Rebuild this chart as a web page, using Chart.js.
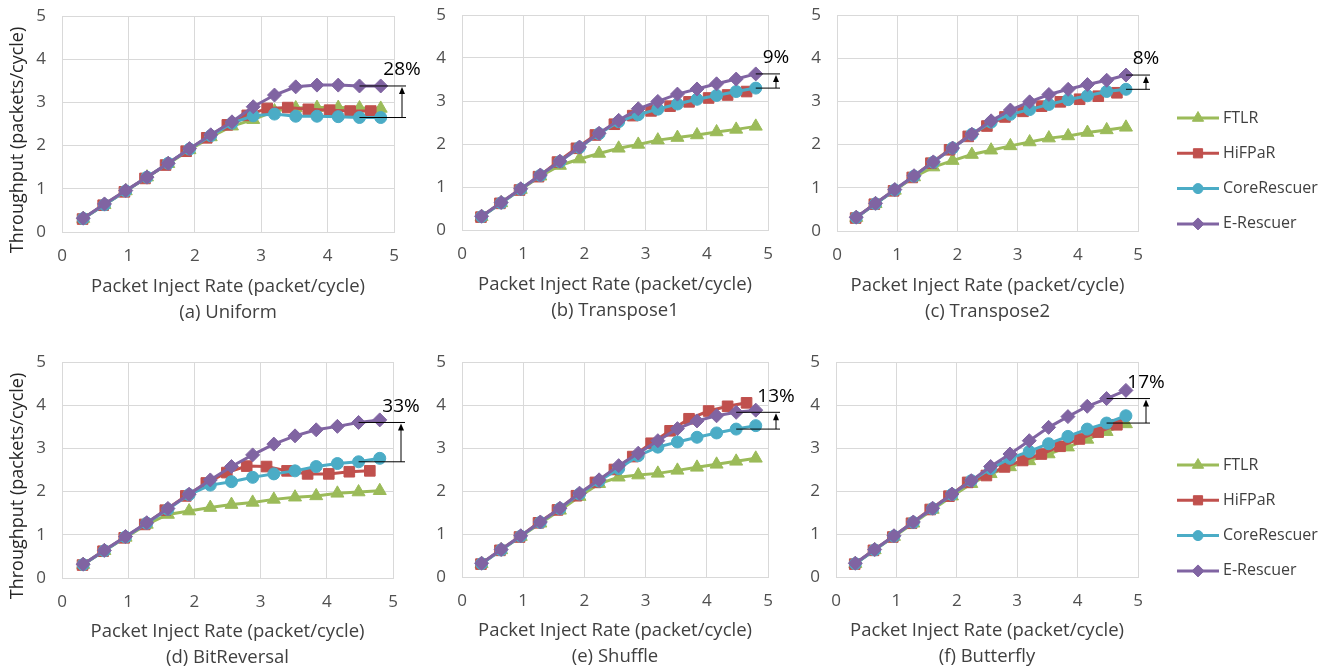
<!DOCTYPE html>
<html>
<head>
<meta charset="utf-8">
<script src="https://cdn.jsdelivr.net/npm/chart.js@4.4.1/dist/chart.umd.min.js"></script>
<style>
  html, body { margin: 0; padding: 0; background: #fff; }
  body { width: 1338px; height: 671px; position: relative; overflow: hidden; }
  canvas { position: absolute; }
</style>
</head>
<body>
<canvas id="p0" width="420" height="330" style="left:0;top:0"></canvas>
<canvas id="p1" width="380" height="330" style="left:420px;top:0"></canvas>
<canvas id="p2" width="538" height="330" style="left:800px;top:0"></canvas>
<canvas id="p3" width="420" height="341" style="left:0;top:330px"></canvas>
<canvas id="p4" width="380" height="341" style="left:420px;top:330px"></canvas>
<canvas id="p5" width="538" height="341" style="left:800px;top:330px"></canvas>
<script>
// injection rates (x) - HiFPaR was measured at slightly lower rates
const rates       = [0.32, 0.64, 0.96, 1.28, 1.6, 1.92, 2.24, 2.56, 2.88, 3.2, 3.52, 3.84, 4.16, 4.48, 4.8];
const hifparRates = [0.31, 0.62, 0.94, 1.25, 1.56, 1.87, 2.18, 2.49, 2.79, 3.09, 3.4, 3.71, 4.03, 4.34, 4.65];

const seriesNames = ['FTLR', 'HiFPaR', 'CoreRescuer', 'E-Rescuer'];
const xAxisTitle = 'Packet Inject Rate (packet/cycle)';
const yAxisTitle = 'Throughput (packets/cycle)';
const panelTitles = ['(a) Uniform', '(b) Transpose1', '(c) Transpose2', '(d) BitReversal', '(e) Shuffle', '(f) Butterfly'];

// (a) Uniform
const uniformFTLR   = [0.31, 0.63, 0.95, 1.27, 1.58, 1.9, 2.2, 2.45, 2.6, 2.8, 2.87, 2.88, 2.88, 2.87, 2.86];
const uniformHiFPaR = [0.3, 0.62, 0.93, 1.24, 1.55, 1.87, 2.18, 2.48, 2.7, 2.86, 2.88, 2.84, 2.82, 2.8, 2.8];
const uniformCore   = [0.31, 0.63, 0.95, 1.27, 1.59, 1.92, 2.23, 2.52, 2.69, 2.73, 2.68, 2.68, 2.67, 2.65, 2.65];
const uniformE      = [0.32, 0.65, 0.96, 1.27, 1.59, 1.93, 2.25, 2.55, 2.9, 3.17, 3.36, 3.4, 3.4, 3.38, 3.38];
// (b) Transpose1
const trans1FTLR   = [0.31, 0.63, 0.94, 1.25, 1.5, 1.65, 1.78, 1.9, 1.99, 2.09, 2.15, 2.21, 2.28, 2.34, 2.41];
const trans1HiFPaR = [0.3, 0.62, 0.93, 1.24, 1.58, 1.9, 2.21, 2.46, 2.66, 2.77, 2.88, 2.98, 3.07, 3.14, 3.22];
const trans1Core   = [0.31, 0.63, 0.95, 1.27, 1.59, 1.92, 2.24, 2.52, 2.68, 2.81, 2.93, 3.04, 3.13, 3.22, 3.3];
const trans1E      = [0.32, 0.64, 0.96, 1.28, 1.6, 1.93, 2.25, 2.55, 2.82, 2.99, 3.16, 3.28, 3.4, 3.51, 3.63];
// (c) Transpose2
const trans2FTLR   = [0.31, 0.63, 0.94, 1.25, 1.48, 1.63, 1.77, 1.87, 1.97, 2.06, 2.15, 2.2, 2.28, 2.34, 2.4];
const trans2HiFPaR = [0.3, 0.62, 0.93, 1.24, 1.57, 1.88, 2.19, 2.43, 2.64, 2.77, 2.89, 2.99, 3.05, 3.12, 3.2];
const trans2Core   = [0.31, 0.63, 0.95, 1.27, 1.59, 1.92, 2.24, 2.52, 2.7, 2.81, 2.93, 3.04, 3.13, 3.23, 3.28];
const trans2E      = [0.32, 0.64, 0.96, 1.28, 1.6, 1.92, 2.24, 2.55, 2.8, 2.99, 3.16, 3.28, 3.39, 3.49, 3.61];
// (d) BitReversal
const bitrevFTLR   = [0.31, 0.63, 0.94, 1.24, 1.47, 1.55, 1.63, 1.7, 1.75, 1.82, 1.87, 1.9, 1.96, 1.99, 2.02];
const bitrevHiFPaR = [0.3, 0.62, 0.93, 1.24, 1.57, 1.9, 2.2, 2.44, 2.59, 2.58, 2.48, 2.41, 2.41, 2.46, 2.48];
const bitrevCore   = [0.31, 0.63, 0.95, 1.27, 1.59, 1.93, 2.15, 2.23, 2.33, 2.41, 2.48, 2.58, 2.65, 2.69, 2.77];
const bitrevE      = [0.32, 0.64, 0.96, 1.28, 1.61, 1.94, 2.27, 2.58, 2.85, 3.1, 3.29, 3.43, 3.51, 3.6, 3.66];
// (e) Shuffle
const shuffleFTLR   = [0.31, 0.63, 0.94, 1.25, 1.55, 1.87, 2.17, 2.32, 2.37, 2.41, 2.48, 2.55, 2.62, 2.69, 2.76];
const shuffleHiFPaR = [0.3, 0.62, 0.93, 1.26, 1.56, 1.89, 2.2, 2.5, 2.8, 3.11, 3.4, 3.68, 3.86, 3.97, 4.05];
const shuffleCore   = [0.31, 0.63, 0.95, 1.27, 1.59, 1.93, 2.23, 2.52, 2.82, 3.02, 3.14, 3.25, 3.35, 3.44, 3.52];
const shuffleE      = [0.32, 0.64, 0.96, 1.28, 1.6, 1.95, 2.26, 2.59, 2.88, 3.17, 3.45, 3.63, 3.75, 3.83, 3.88];
// (f) Butterfly
const butterflyFTLR   = [0.31, 0.63, 0.94, 1.25, 1.57, 1.88, 2.17, 2.4, 2.56, 2.7, 2.86, 3.02, 3.2, 3.38, 3.56];
const butterflyHiFPaR = [0.3, 0.62, 0.93, 1.25, 1.57, 1.88, 2.2, 2.36, 2.56, 2.71, 2.86, 3.04, 3.21, 3.37, 3.54];
const butterflyCore   = [0.31, 0.63, 0.95, 1.27, 1.59, 1.92, 2.24, 2.52, 2.76, 2.92, 3.1, 3.27, 3.44, 3.58, 3.75];
const butterflyE      = [0.32, 0.64, 0.96, 1.28, 1.6, 1.93, 2.24, 2.57, 2.86, 3.17, 3.48, 3.73, 3.97, 4.15, 4.34];

// improvement brackets: start rate, upper and lower throughput, label
const gapFrom   = [4.48, 4.8, 4.8, 4.48, 4.48, 4.48];
const gapHigh   = [3.38, 3.63, 3.61, 3.6, 3.83, 4.15];
const gapLow    = [2.65, 3.3, 3.28, 2.69, 3.44, 3.58];
const gapLabels = ['28%', '9%', '8%', '33%', '13%', '17%'];

const panelSeries = [
  [uniformFTLR, uniformHiFPaR, uniformCore, uniformE],
  [trans1FTLR, trans1HiFPaR, trans1Core, trans1E],
  [trans2FTLR, trans2HiFPaR, trans2Core, trans2E],
  [bitrevFTLR, bitrevHiFPaR, bitrevCore, bitrevE],
  [shuffleFTLR, shuffleHiFPaR, shuffleCore, shuffleE],
  [butterflyFTLR, butterflyHiFPaR, butterflyCore, butterflyE],
];

const colors  = ['#9bbb59', '#c0504d', '#4bacc6', '#8064a2'];
const markers = ['triangle', 'rect', 'circle', 'rectRot'];
const radii   = [7.5, 7.5, 6, 7];
const FONT = '"Open Sans", Lato, sans-serif';

// per canvas: y axis width, right padding, top padding, x axis height, title bottom padding
const cells = [
  { axisW: 62, padR: 26, padT: 16, axisH: 98, titleB: 4, yTitle: true,  legend: false },
  { axisW: 42, padR: 32, padT: 15, axisH: 100, titleB: 6, yTitle: false, legend: false },
  { axisW: 37, padR: 200, padT: 15, axisH: 99, titleB: 5, yTitle: false, legend: true },
  { axisW: 62, padR: 27, padT: 32, axisH: 93, titleB: 0, yTitle: true,  legend: false },
  { axisW: 42, padR: 32, padT: 32, axisH: 94, titleB: 1, yTitle: false, legend: false },
  { axisW: 36, padR: 200, padT: 32, axisH: 94, titleB: 1, yTitle: false, legend: true },
];

function gapArrow(i) {
  return {
    id: 'gapArrow',
    afterDraw(chart) {
      const { ctx, chartArea, scales: { x, y } } = chart;
      const ax = chartArea.right + 8;
      const xs = x.getPixelForValue(gapFrom[i]);
      const yh = y.getPixelForValue(gapHigh[i]);
      const yl = y.getPixelForValue(gapLow[i]);
      ctx.save();
      ctx.strokeStyle = '#000';
      ctx.fillStyle = '#000';
      ctx.lineWidth = 1;
      ctx.beginPath();
      ctx.moveTo(xs, yh); ctx.lineTo(ax + 4, yh);
      ctx.moveTo(xs, yl); ctx.lineTo(ax + 4, yl);
      ctx.moveTo(ax, yl); ctx.lineTo(ax, yh + 6);
      ctx.stroke();
      ctx.beginPath();
      ctx.moveTo(ax, yh + 1); ctx.lineTo(ax - 3, yh + 8); ctx.lineTo(ax + 3, yh + 8);
      ctx.closePath();
      ctx.fill();
      ctx.font = '19px ' + FONT;
      ctx.textAlign = 'center';
      ctx.textBaseline = 'middle';
      ctx.fillText(gapLabels[i], ax, yh - 16);
      ctx.restore();
    }
  };
}

const sideTitle = {
  id: 'sideTitle',
  afterDraw(chart) {
    const { ctx, chartArea } = chart;
    ctx.save();
    ctx.translate(18, (chartArea.top + chartArea.bottom) / 2 + 16);
    ctx.rotate(-Math.PI / 2);
    ctx.font = '18px ' + FONT;
    ctx.fillStyle = '#262626';
    ctx.textAlign = 'center';
    ctx.textBaseline = 'middle';
    ctx.fillText(yAxisTitle, 0, 0);
    ctx.restore();
  }
};

const sideLegend = {
  id: 'sideLegend',
  afterDraw(chart) {
    const { ctx, chartArea } = chart;
    const x0 = chartArea.right + 39;
    chart.data.datasets.forEach((ds, i) => {
      const yy = chartArea.top + 103 + i * 35.3;
      ctx.save();
      ctx.strokeStyle = ds.borderColor;
      ctx.lineWidth = 3;
      ctx.beginPath();
      ctx.moveTo(x0, yy); ctx.lineTo(x0 + 42, yy);
      ctx.stroke();
      ctx.fillStyle = ds.pointBackgroundColor;
      ctx.strokeStyle = ds.pointBorderColor;
      ctx.lineWidth = 1;
      Chart.helpers.drawPoint(ctx, { pointStyle: ds.pointStyle, rotation: 0, radius: ds.pointRadius - 1, borderWidth: 1 }, x0 + 21, yy);
      ctx.font = '16px ' + FONT;
      ctx.fillStyle = '#404040';
      ctx.textAlign = 'left';
      ctx.textBaseline = 'middle';
      ctx.fillText(ds.label, x0 + 46, yy);
      ctx.restore();
    });
  }
};

panelSeries.forEach((values, i) => {
  const cell = cells[i];
  const datasets = values.map((ys, s) => {
    const xs = s === 1 ? hifparRates : rates;
    return {
      label: seriesNames[s],
      data: ys.map((v, k) => ({ x: xs[k], y: v })),
      borderColor: colors[s],
      backgroundColor: colors[s],
      pointBackgroundColor: colors[s],
      pointBorderColor: colors[s],
      borderWidth: 3,
      pointStyle: markers[s],
      pointRadius: radii[s],
      pointBorderWidth: 1,
      tension: 0,
      order: 3 - s,
    };
  });

  const plugins = [gapArrow(i)];
  if (cell.yTitle) plugins.push(sideTitle);
  if (cell.legend) plugins.push(sideLegend);

  new Chart(document.getElementById('p' + i), {
    type: 'line',
    data: { datasets },
    options: {
      responsive: false,
      animation: false,
      layout: { padding: { left: 0, top: cell.padT, right: cell.padR, bottom: 0 } },
      plugins: { legend: { display: false }, tooltip: { enabled: false } },
      scales: {
        x: {
          type: 'linear', min: 0, max: 5,
          ticks: { stepSize: 1, padding: 14, color: '#505050', font: { family: FONT, size: 17 } },
          grid: { color: '#d9d9d9', drawTicks: false },
          border: { color: '#d9d9d9' },
          title: {
            display: true,
            text: [xAxisTitle, panelTitles[i]],
            color: '#404040',
            font: { family: FONT, size: 18.5, lineHeight: 26 / 18.5 },
            padding: { top: 0, bottom: cell.titleB }
          },
          afterFit: s => { s.height = cell.axisH; s.paddingLeft = 0; s.paddingRight = 0; }
        },
        y: {
          min: 0, max: 5,
          ticks: { stepSize: 1, padding: 16, color: '#505050', font: { family: FONT, size: 17 } },
          grid: { color: '#d9d9d9', drawTicks: false },
          border: { color: '#d9d9d9' },
          afterFit: s => { s.width = cell.axisW; s.paddingTop = 0; s.paddingBottom = 0; }
        }
      }
    },
    plugins
  });
});
</script>
</body>
</html>
